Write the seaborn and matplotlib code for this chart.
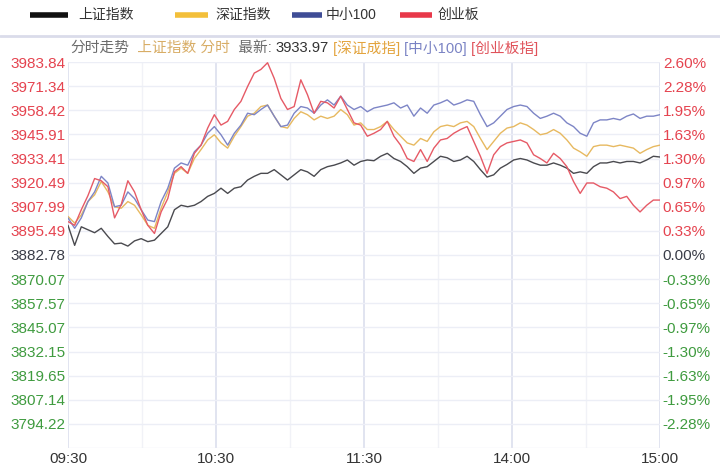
import numpy as np
import pandas as pd
import matplotlib
matplotlib.use("Agg")
import matplotlib.pyplot as plt
from matplotlib.lines import Line2D
import seaborn as sns

# --- data (percent change vs previous close 3882.78) ---
minutes = np.linspace(0, 240, 90)   # 09:30 -> 15:00 trading minutes

sh_pct = [0.40, 0.13, 0.38, 0.34, 0.30, 0.36, 0.25, 0.15, 0.16, 0.12,
          0.19, 0.22, 0.18, 0.20, 0.29, 0.38, 0.61, 0.67, 0.65, 0.67,
          0.72, 0.79, 0.83, 0.90, 0.83, 0.90, 0.92, 1.01, 1.06, 1.10,
          1.10, 1.15, 1.08, 1.01, 1.08, 1.15, 1.12, 1.06, 1.15, 1.19,
          1.21, 1.24, 1.28, 1.21, 1.26, 1.28, 1.27, 1.33, 1.37, 1.30,
          1.26, 1.19, 1.10, 1.17, 1.19, 1.26, 1.33, 1.31, 1.26, 1.28,
          1.33, 1.26, 1.15, 1.05, 1.08, 1.17, 1.22, 1.28, 1.30, 1.28,
          1.24, 1.21, 1.21, 1.24, 1.21, 1.17, 1.10, 1.12, 1.10, 1.19,
          1.24, 1.24, 1.26, 1.24, 1.26, 1.26, 1.24, 1.28, 1.33, 1.32]

sz_pct = [0.52, 0.43, 0.54, 0.72, 0.81, 0.99, 0.85, 0.65, 0.63, 0.72,
          0.67, 0.54, 0.40, 0.36, 0.63, 0.85, 1.10, 1.17, 1.10, 1.30,
          1.42, 1.55, 1.62, 1.51, 1.44, 1.60, 1.73, 1.87, 1.91, 2.00,
          2.02, 1.87, 1.73, 1.71, 1.84, 1.93, 1.89, 1.82, 1.87, 1.84,
          1.87, 1.96, 1.89, 1.75, 1.78, 1.69, 1.69, 1.73, 1.80, 1.69,
          1.60, 1.51, 1.48, 1.57, 1.53, 1.66, 1.73, 1.75, 1.73, 1.78,
          1.80, 1.73, 1.57, 1.42, 1.53, 1.64, 1.71, 1.73, 1.78, 1.75,
          1.69, 1.62, 1.64, 1.69, 1.64, 1.55, 1.44, 1.39, 1.33, 1.46,
          1.48, 1.48, 1.46, 1.48, 1.46, 1.44, 1.37, 1.42, 1.46, 1.48]

zx_pct = [0.50, 0.36, 0.50, 0.72, 0.85, 1.06, 0.97, 0.65, 0.67, 0.85,
          0.76, 0.61, 0.47, 0.45, 0.72, 0.90, 1.17, 1.24, 1.21, 1.39,
          1.48, 1.64, 1.73, 1.62, 1.48, 1.64, 1.75, 1.91, 1.89, 1.96,
          2.02, 1.87, 1.73, 1.75, 1.91, 2.00, 1.98, 1.91, 2.02, 2.09,
          2.02, 2.14, 2.02, 1.96, 2.00, 1.93, 1.98, 2.00, 2.02, 2.05,
          1.98, 2.02, 1.87, 1.98, 1.91, 2.02, 2.05, 2.09, 2.02, 2.05,
          2.09, 2.07, 1.89, 1.73, 1.78, 1.87, 1.96, 2.00, 2.02, 2.00,
          1.91, 1.84, 1.87, 1.91, 1.87, 1.78, 1.73, 1.64, 1.60, 1.78,
          1.82, 1.82, 1.84, 1.82, 1.87, 1.90, 1.84, 1.87, 1.87, 1.89]

cy_pct = [0.45, 0.40, 0.61, 0.80, 1.03, 1.00, 0.92, 0.50, 0.68, 1.00,
          0.85, 0.61, 0.40, 0.29, 0.58, 0.76, 1.12, 1.19, 1.10, 1.37,
          1.48, 1.71, 1.89, 1.75, 1.80, 1.96, 2.07, 2.27, 2.45, 2.50,
          2.59, 2.38, 2.11, 1.96, 2.00, 2.36, 2.16, 1.91, 2.07, 2.05,
          1.98, 2.14, 1.96, 1.78, 1.75, 1.60, 1.64, 1.69, 1.80, 1.60,
          1.48, 1.30, 1.26, 1.42, 1.26, 1.44, 1.55, 1.57, 1.64, 1.69,
          1.73, 1.53, 1.33, 1.10, 1.35, 1.46, 1.51, 1.53, 1.55, 1.51,
          1.35, 1.30, 1.24, 1.37, 1.30, 1.19, 0.99, 0.83, 0.97, 0.97,
          0.92, 0.90, 0.85, 0.76, 0.79, 0.67, 0.58, 0.67, 0.74, 0.74]

series_names = ["上证指数", "深证指数", "中小100", "创业板"]
line_colors = ["#4a4a4f", "#e7b960", "#7d85c6", "#e65a66"]
legend_colors = ["#111111", "#f3bf3a", "#3f4d96", "#e8384a"]

price_labels = ["3983.84", "3971.34", "3958.42", "3945.91", "3933.41", "3920.49",
                "3907.99", "3895.49", "3882.78", "3870.07", "3857.57", "3845.07",
                "3832.15", "3819.65", "3807.14", "3794.22", ""]
pct_labels = ["2.60%", "2.28%", "1.95%", "1.63%", "1.30%", "0.97%", "0.65%",
              "0.33%", "0.00%", "-0.33%", "-0.65%", "-0.97%", "-1.30%",
              "-1.63%", "-1.95%", "-2.28%", ""]
time_ticks = [0, 60, 120, 180, 240]
time_labels = ["09:30", "10:30", "11:30", "14:00", "15:00"]
half_hours = [30, 90, 150, 210]
latest = "3933.97"

df = pd.DataFrame({
    "minute": np.tile(minutes, 4),
    "pct": sh_pct + sz_pct + zx_pct + cy_pct,
    "series": np.repeat(series_names, len(minutes)),
})

sns.set_theme(style="white")
plt.rcParams["font.family"] = ["Liberation Sans", "Noto Sans CJK SC", "DejaVu Sans"]

W, H = 720, 466
fig = plt.figure(figsize=(W / 100, H / 100), dpi=100)
ax = fig.add_axes([68 / W, 1 - 448 / H, 592 / W, 386 / H])

sns.lineplot(data=df, x="minute", y="pct", hue="series", hue_order=series_names,
             palette=dict(zip(series_names, line_colors)), linewidth=1.0,
             estimator=None, sort=False, legend=False, ax=ax)

ax.set_xlim(0, 240)
ax.set_ylim(-2.6, 2.6)
tick_pos = np.linspace(2.6, -2.6, len(price_labels))

RED, GREEN, DARK = "#e5434f", "#3f9b3f", "#3a3d48"
def label_color(i):
    zero = price_labels.index("3882.78")
    return RED if i < zero else (DARK if i == zero else GREEN)

ax.set_yticks(tick_pos)
ax.set_yticklabels(price_labels)
ax.set_xticks(time_ticks)
ax.set_xticklabels(time_labels)
ax.set_xticks(half_hours, minor=True)
ax.set_xlabel("")
ax.set_ylabel("")
ax.tick_params(axis="y", length=0, pad=2, labelsize=11)
ax.tick_params(axis="x", which="both", length=0, pad=3, labelsize=11, labelcolor="#333333")
for i, t in enumerate(ax.get_yticklabels()):
    t.set_color(label_color(i))

ax.set_axisbelow(True)
ax.grid(axis="y", color="#eceef6", lw=1)
ax.grid(axis="x", which="major", color="#dcdfee", lw=1.2)
ax.grid(axis="x", which="minor", color="#f1f2f7", lw=1)
for s in ax.spines.values():
    s.set_visible(False)

ax2 = ax.twinx()
ax2.set_ylim(-2.6, 2.6)
ax2.set_yticks(tick_pos)
ax2.set_yticklabels(pct_labels)
ax2.tick_params(axis="y", length=0, pad=2, labelsize=11)
for i, t in enumerate(ax2.get_yticklabels()):
    t.set_color(label_color(i))
ax2.grid(False)
for s in ax2.spines.values():
    s.set_visible(False)

# header line of colored text
parts = [("分时走势", "#6b6b6b"), ("  上证指数 分时", "#d8ad66"), ("  最新: ", "#6b6b6b"),
         (latest, "#333333"), (" [深证成指]", "#e3a43e"), (" [中小100]", "#7a83c4"),
         (" [创业板指]", "#e0525a")]
t = fig.text(70 / W, 1 - 48 / H, parts[0][0], color=parts[0][1],
             fontsize=10.6, va="center", ha="left")
for txt, col in parts[1:]:
    t = ax.annotate(txt, xy=(1, 0.5), xycoords=t, va="center", ha="left",
                    color=col, fontsize=10.6, annotation_clip=False)

# separator under legend
fig.add_artist(Line2D([0, 1], [1 - 36 / H] * 2, transform=fig.transFigure,
                      color="#dadcea", lw=2))

# legend items laid out like the page header
legend_slots = [(30, 68, 78), (175, 208, 215), (292, 322, 326), (400, 432, 438)]
ly = 1 - 15 / H
for (x0, x1, tx), name, col in zip(legend_slots, series_names, legend_colors):
    fig.add_artist(Line2D([x0 / W, x1 / W], [ly, ly], transform=fig.transFigure,
                          color=col, lw=4, solid_capstyle="butt"))
    fig.text(tx / W, ly, name, color="#333333", fontsize=10, va="center", ha="left")

fig.savefig("out.png", dpi=100)
plt.close(fig)
